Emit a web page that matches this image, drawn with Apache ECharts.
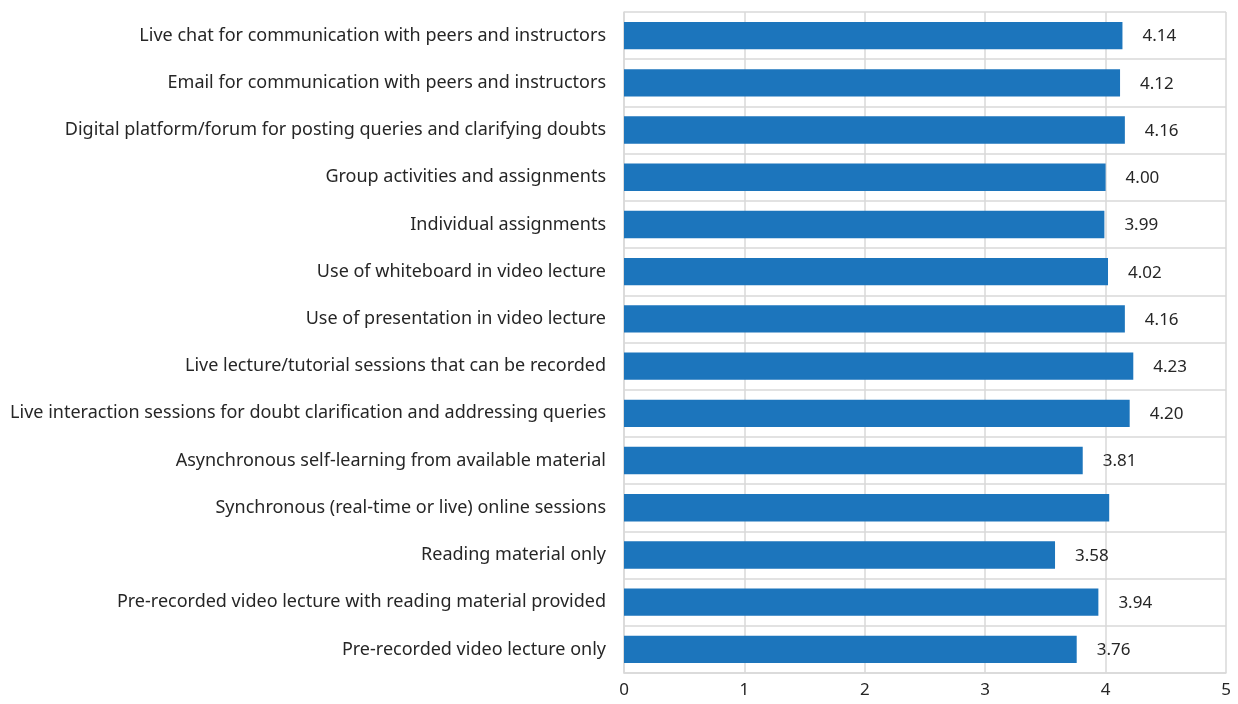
<!DOCTYPE html>
<html>
<head>
<meta charset="utf-8">
<script src="https://cdn.jsdelivr.net/npm/echarts@6/dist/echarts.min.js"></script>
<style>
  html, body { margin: 0; padding: 0; background: #ffffff; }
  #chart { width: 1238px; height: 704px; }
</style>
</head>
<body>
<div id="chart"></div>
<script>
// Survey items, listed top to bottom
const categories = [
  'Live chat for communication with peers and instructors',
  'Email for communication with peers and instructors',
  'Digital platform/forum for posting queries and clarifying doubts',
  'Group activities and assignments',
  'Individual assignments',
  'Use of whiteboard in video lecture',
  'Use of presentation in video lecture',
  'Live lecture/tutorial sessions that can be recorded',
  'Live interaction sessions for doubt clarification and addressing queries',
  'Asynchronous self-learning from available material',
  'Synchronous (real-time or live) online sessions',
  'Reading material only',
  'Pre-recorded video lecture with reading material provided',
  'Pre-recorded video lecture only'
];

// Mean rating per item
const meanScores = [4.14, 4.12, 4.16, 4.00, 3.99, 4.02, 4.16, 4.23, 4.20, 3.81, 4.03, 3.58, 3.94, 3.76];

// Items whose value label is left off
const unlabeled = ['Synchronous (real-time or live) online sessions'];

const xTicks = [0, 1, 2, 3, 4, 5];

const FONT = '"Noto Sans", sans-serif';
const GRID = '#d9d9d9';
const TEXT = '#262626';

const chart = echarts.init(document.getElementById('chart'), null, { renderer: 'canvas' });

chart.setOption({
  animation: false,
  grid: { left: 624, right: 12, top: 12, bottom: 31, containLabel: false },
  xAxis: {
    type: 'value',
    min: xTicks[0],
    max: xTicks[xTicks.length - 1],
    interval: 1,
    axisLine: { show: true, lineStyle: { color: GRID, width: 1.5 } },
    axisTick: { show: false },
    axisLabel: { color: TEXT, fontSize: 17, fontFamily: FONT, margin: 9 },
    splitLine: { show: true, lineStyle: { color: GRID, width: 1.5 } }
  },
  yAxis: {
    type: 'category',
    inverse: true,
    data: categories,
    axisLine: { show: true, lineStyle: { color: GRID, width: 1.5 } },
    axisTick: { show: false },
    axisLabel: { color: TEXT, fontSize: 18, fontFamily: FONT, margin: 18, offset: 0 },
    splitLine: { show: true, lineStyle: { color: GRID, width: 1.5 } }
  },
  series: [{
    type: 'bar',
    barWidth: '58%',
    itemStyle: { color: '#1c75bc' },
    data: meanScores.map((v, i) => ({
      value: v,
      label: { show: !unlabeled.includes(categories[i]) }
    })),
    label: {
      position: 'right',
      distance: 20,
      color: TEXT,
      fontSize: 17,
      fontFamily: FONT,
      offset: [0, 1],
      formatter: p => p.value.toFixed(2)
    }
  }]
});
</script>
</body>
</html>
